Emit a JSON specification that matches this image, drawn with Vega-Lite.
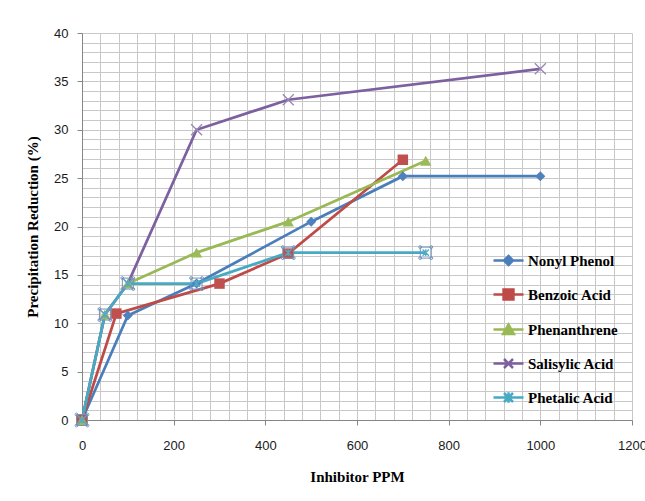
{
  "$schema": "https://vega.github.io/schema/vega-lite/v6.json",
  "width": 550,
  "height": 387,
  "autosize": "none",
  "padding": {"left": 82, "top": 33, "right": 13, "bottom": 81},
  "background": "white",
  "config": {"view": {"stroke": null}},
  "data": {
    "values": [
      {"series": "Nonyl Phenol", "ppm": 0, "value": 0},
      {"series": "Nonyl Phenol", "ppm": 100, "value": 10.8},
      {"series": "Nonyl Phenol", "ppm": 250, "value": 14.1},
      {"series": "Nonyl Phenol", "ppm": 500, "value": 20.5},
      {"series": "Nonyl Phenol", "ppm": 700, "value": 25.2},
      {"series": "Nonyl Phenol", "ppm": 1000, "value": 25.2},
      {"series": "Benzoic Acid", "ppm": 0, "value": 0},
      {"series": "Benzoic Acid", "ppm": 75, "value": 11},
      {"series": "Benzoic Acid", "ppm": 300, "value": 14.1},
      {"series": "Benzoic Acid", "ppm": 450, "value": 17.2},
      {"series": "Benzoic Acid", "ppm": 700, "value": 26.9},
      {"series": "Phenanthrene", "ppm": 0, "value": 0},
      {"series": "Phenanthrene", "ppm": 50, "value": 10.9},
      {"series": "Phenanthrene", "ppm": 100, "value": 14.1},
      {"series": "Phenanthrene", "ppm": 250, "value": 17.3},
      {"series": "Phenanthrene", "ppm": 450, "value": 20.5},
      {"series": "Phenanthrene", "ppm": 750, "value": 26.8},
      {"series": "Salisylic Acid", "ppm": 0, "value": 0},
      {"series": "Salisylic Acid", "ppm": 50, "value": 10.9},
      {"series": "Salisylic Acid", "ppm": 100, "value": 14.1},
      {"series": "Salisylic Acid", "ppm": 250, "value": 30},
      {"series": "Salisylic Acid", "ppm": 450, "value": 33.1},
      {"series": "Salisylic Acid", "ppm": 1000, "value": 36.3},
      {"series": "Phetalic Acid", "ppm": 0, "value": 0},
      {"series": "Phetalic Acid", "ppm": 50, "value": 10.9},
      {"series": "Phetalic Acid", "ppm": 100, "value": 14.1},
      {"series": "Phetalic Acid", "ppm": 250, "value": 14.1},
      {"series": "Phetalic Acid", "ppm": 450, "value": 17.3},
      {"series": "Phetalic Acid", "ppm": 750, "value": 17.3}
    ]
  },
  "encoding": {
    "x": {
      "field": "ppm",
      "type": "quantitative",
      "scale": {"domain": [0, 1200], "nice": false, "zero": true},
      "axis": {
        "title": "Inhibitor PPM",
        "values": [0,40,80,120,160,200,240,280,320,360,400,440,480,520,560,600,640,680,720,760,800,840,880,920,960,1000,1040,1080,1120,1160,1200],
        "format": "d",
        "labelExpr": "datum.value % 200 === 0 ? datum.label : ''",
        "labelFlush": false,
        "labelOverlap": false,
        "labelFont": "Liberation Sans",
        "labelFontSize": 13,
        "labelColor": "#1a1a1a",
        "labelPadding": 14,
        "tickSize": 5,
        "tickColor": "#868686",
        "tickOpacity": {"condition": {"test": "datum.value % 200 === 0", "value": 1}, "value": 0},
        "domainColor": "#868686",
        "grid": true,
        "gridColor": "#c8c8c8",
        "gridWidth": 1,
        "titleFont": "Liberation Serif",
        "titleFontWeight": "bold",
        "titleFontSize": 15,
        "titleColor": "black",
        "titlePadding": 17
      }
    },
    "y": {
      "field": "value",
      "type": "quantitative",
      "scale": {"domain": [0, 40], "nice": false},
      "axis": {
        "title": "Precipitation Reduction (%)",
        "values": [0,1,2,3,4,5,6,7,8,9,10,11,12,13,14,15,16,17,18,19,20,21,22,23,24,25,26,27,28,29,30,31,32,33,34,35,36,37,38,39,40],
        "format": "d",
        "labelExpr": "datum.value % 5 === 0 ? datum.label : ''",
        "labelOverlap": false,
        "labelFont": "Liberation Sans",
        "labelFontSize": 13,
        "labelColor": "#1a1a1a",
        "labelPadding": 9,
        "tickSize": 5,
        "tickColor": "#868686",
        "tickOpacity": {"condition": {"test": "datum.value % 5 === 0", "value": 1}, "value": 0},
        "domainColor": "#868686",
        "grid": true,
        "gridColor": "#c8c8c8",
        "gridWidth": 1,
        "titleFont": "Liberation Serif",
        "titleFontWeight": "bold",
        "titleFontSize": 15,
        "titleColor": "black",
        "titlePadding": 13
      }
    }
  },
  "layer": [
    {
      "mark": {"type": "line", "strokeWidth": 2.75},
      "encoding": {
        "color": {
          "field": "series",
          "type": "nominal",
          "scale": {
            "domain": ["Nonyl Phenol", "Benzoic Acid", "Phenanthrene", "Salisylic Acid", "Phetalic Acid"],
            "range": ["#4A7EBB", "#BE4B48", "#98B954", "#7D60A0", "#46AAC5"]
          },
          "legend": {
            "title": null,
            "orient": "none",
            "legendX": 410,
            "legendY": 211,
            "padding": 0,
            "symbolSize": 900,
            "symbolStrokeWidth": 2.5,
            "labelFont": "Liberation Serif",
            "labelFontWeight": "bold",
            "labelFontSize": 15,
            "labelColor": "black",
            "labelOffset": 3,
            "rowPadding": 8,
            "encode": {
              "symbols": {
                "update": {
                  "shape": {"signal": "datum.value === 'Nonyl Phenol' ? 'M-1,0H1M0,-0.3L0.3,0L0,0.3L-0.3,0Z' : datum.value === 'Benzoic Acid' ? 'M-1,0H1M-0.33,-0.33H0.33V0.33H-0.33Z' : datum.value === 'Phenanthrene' ? 'M-1,0H1M0,-0.33L0.36,0.3H-0.36Z' : datum.value === 'Salisylic Acid' ? 'M-1,0H1M-0.3,-0.3L0.3,0.3M-0.3,0.3L0.3,-0.3' : 'M-1,0H1M-0.3,-0.3L0.3,0.3M-0.3,0.3L0.3,-0.3M0,-0.35V0.35'"},
                  "fill": {"signal": "scale('color', datum.value)"},
                  "stroke": {"signal": "scale('color', datum.value)"},
                  "opacity": {"value": 1}
                }
              }
            }
          }
        }
      }
    },
    {
      "transform": [{"filter": "datum.series === 'Nonyl Phenol'"}],
      "mark": {"type": "point", "shape": "diamond", "filled": true, "fill": "#4F81BD", "opacity": 1, "size": 100, "strokeWidth": 0}
    },
    {
      "transform": [{"filter": "datum.series === 'Benzoic Acid'"}],
      "mark": {"type": "point", "shape": "square", "filled": true, "fill": "#C0504D", "opacity": 1, "size": 110, "strokeWidth": 0}
    },
    {
      "transform": [{"filter": "datum.series === 'Phenanthrene'"}],
      "mark": {"type": "point", "shape": "triangle-up", "filled": true, "fill": "#9BBB59", "opacity": 1, "size": 130, "strokeWidth": 0}
    },
    {
      "transform": [{"filter": "datum.series === 'Salisylic Acid'"}],
      "mark": {"type": "point", "shape": "M-1,-1L1,1M-1,1L1,-1", "filled": false, "stroke": "#9A86B8", "opacity": 1, "size": 121, "strokeWidth": 1.3}
    },
    {
      "transform": [{"filter": "datum.series === 'Phetalic Acid'"}],
      "mark": {"type": "point", "shape": "M-1,-1L1,1M-1,1L1,-1M0,-1.1V1.1", "filled": false, "stroke": "#4BACC6", "opacity": 1, "size": 40, "strokeWidth": 1.3}
    },
    {
      "transform": [{"filter": "datum.series === 'Phetalic Acid'"}],
      "mark": {"type": "point", "shape": "M-0.75,-0.75H0.75V0.75H-0.75ZM-0.95,-0.75A0.2,0.2 0 1 1 -0.55,-0.75A0.2,0.2 0 1 1 -0.95,-0.75ZM0.55,-0.75A0.2,0.2 0 1 1 0.95,-0.75A0.2,0.2 0 1 1 0.55,-0.75ZM-0.95,0.75A0.2,0.2 0 1 1 -0.55,0.75A0.2,0.2 0 1 1 -0.95,0.75ZM0.55,0.75A0.2,0.2 0 1 1 0.95,0.75A0.2,0.2 0 1 1 0.55,0.75Z", "filled": false, "stroke": "#6F93BD", "opacity": 1, "size": 215, "strokeWidth": 1}
    }
  ]
}
